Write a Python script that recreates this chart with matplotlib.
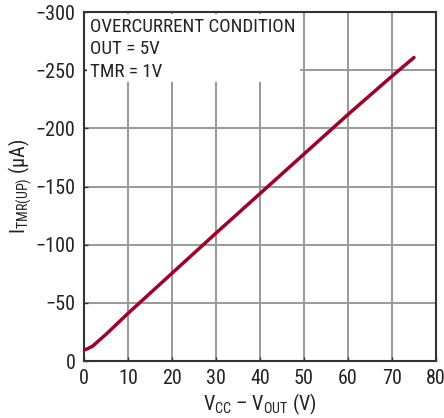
import matplotlib
matplotlib.use("Agg")
import matplotlib.pyplot as plt
from matplotlib import font_manager
from matplotlib.patches import Rectangle

names = {f.name for f in font_manager.fontManager.ttflist}
fam = 'Roboto'
for cand in ["Liberation Sans Narrow", "Roboto Condensed", "Open Sans Condensed", "Roboto"]:
    if cand in names:
        fam = cand
        break
plt.rcParams['font.family'] = [fam, 'DejaVu Sans']
plt.rcParams['mathtext.fontset'] = 'custom'
plt.rcParams['mathtext.rm'] = fam

# data
vdiff = [0, 1, 2, 5, 10, 20, 30, 40, 50, 60, 70, 75]
i_tmr = [-9.5, -11, -13, -23, -41, -75.5, -110, -144, -178, -212, -245, -261]
xticks = [0, 10, 20, 30, 40, 50, 60, 70, 80]
yticks = [0, -50, -100, -150, -200, -250, -300]
note = "OVERCURRENT CONDITION\nOUT = 5V\nTMR = 1V"

fig = plt.figure(figsize=(4.44, 4.18), dpi=100)
ax = fig.add_axes([0.189, 0.136, 0.793, 0.835])
ax.set_xlim(0, 80)
ax.set_ylim(0, -300)
ax.set_xticks(xticks)
ax.set_yticks(yticks)
ax.grid(True, color='#999999', linewidth=1.4)
ax.set_axisbelow(True)
for s in ax.spines.values():
    s.set_color('#333333')
    s.set_linewidth(1.5)
ax.tick_params(direction='in', length=3, width=1, colors='#333333',
               labelsize=14.5, labelcolor='#222222', pad=6)
ax.plot(vdiff, i_tmr, color='#a0002a', linewidth=2.5, solid_capstyle='round', zorder=3)

ax.add_patch(Rectangle((0.009, 0.80), 0.605, 0.195, transform=ax.transAxes,
                       facecolor='white', edgecolor='none', zorder=2))
ax.text(0.017, 0.984, note, transform=ax.transAxes, fontsize=13.7, va='top', ha='left',
        color='#222222', linespacing=1.33, zorder=4)

ax.set_xlabel(r'$\mathregular{V_{CC}}$ – $\mathregular{V_{OUT}}$ (V)', fontsize=14.5, color='#222222', labelpad=2)
ax.set_ylabel(r'$\mathregular{I_{TMR(UP)}}$ (μA)', fontsize=14.5, color='#222222', labelpad=1)

fig.savefig("out.png", dpi=100)
